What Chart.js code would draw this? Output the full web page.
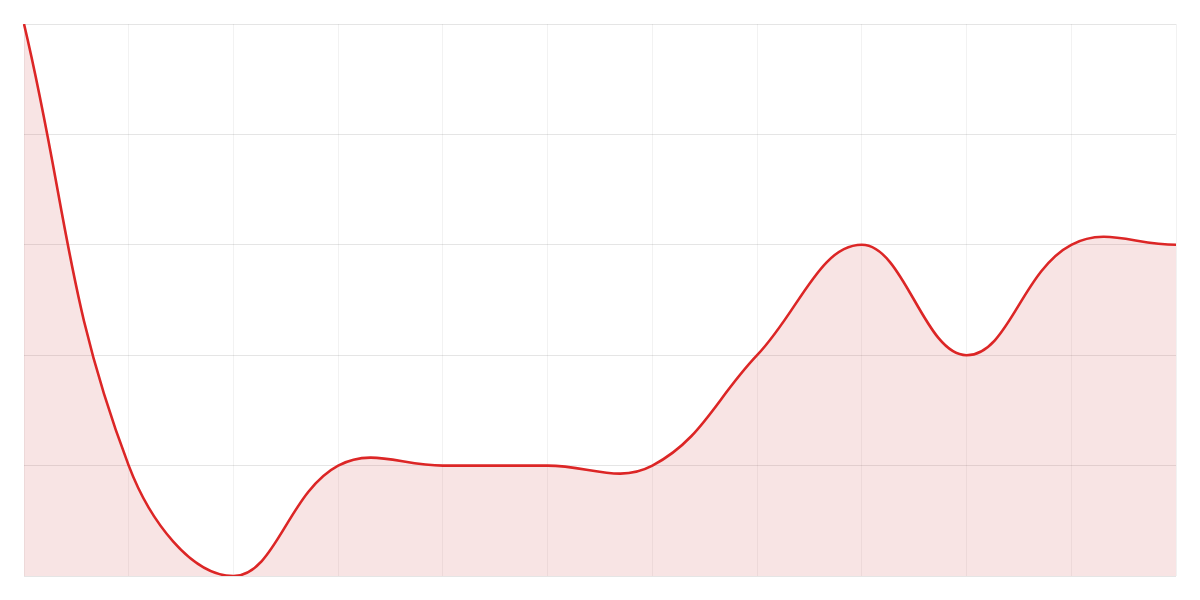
<!DOCTYPE html>
<html>
<head>
<meta charset="utf-8">
<script src="https://cdn.jsdelivr.net/npm/chart.js@4"></script>
<style>
html,body{margin:0;padding:0;background:#fff;}
#wrap{width:1200px;height:600px;}
</style>
</head>
<body>
<div id="wrap"><canvas id="c"></canvas></div>
<script>
const labels = ['1','2','3','4','5','6','7','8','9','10','11','12'];
const values = [5, 1, 0, 1, 1, 1, 1, 2, 3, 2, 3, 3];
const yTicks = [0, 1, 2, 3, 4, 5];

new Chart(document.getElementById('c'), {
  type: 'line',
  data: {
    labels: labels,
    datasets: [{
      data: values,
      borderColor: '#dc2626',
      backgroundColor: 'rgba(200,30,30,0.12)',
      borderWidth: 2.6,
      fill: true,
      tension: 0.4,
      pointRadius: 0
    }]
  },
  options: {
    responsive: true,
    maintainAspectRatio: false,
    animation: false,
    layout: { padding: 24 },
    plugins: { legend: { display: false }, tooltip: { enabled: false } },
    scales: {
      x: {
        ticks: { display: false },
        grid: { color: 'rgba(0,0,0,0.05)', drawTicks: false },
        border: { display: false }
      },
      y: {
        min: yTicks[0],
        max: yTicks[yTicks.length - 1],
        afterBuildTicks: (axis) => { axis.ticks = yTicks.map(v => ({ value: v })); },
        ticks: { display: false },
        grid: { color: 'rgba(0,0,0,0.1)', drawTicks: false },
        border: { display: false }
      }
    }
  }
});
</script>
</body>
</html>
